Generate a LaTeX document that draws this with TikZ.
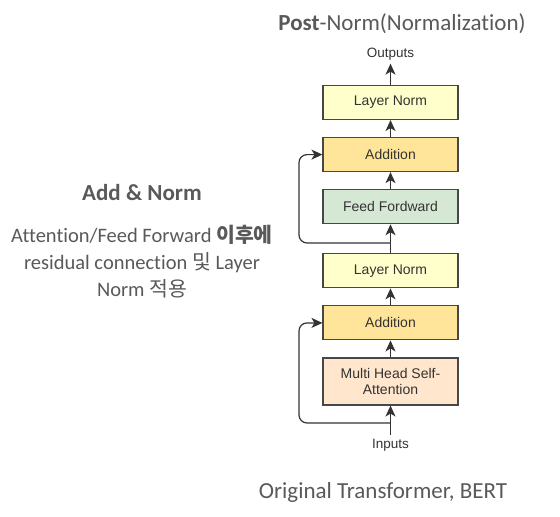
\documentclass[tikz,border=0pt]{standalone}
\usepackage{fontspec}
\setmainfont{Carlito}[Ligatures=NoCommon]
\newfontfamily\boxfont{Liberation Sans}
\newfontfamily\kr{Noto Sans CJK KR}
\usetikzlibrary{arrows.meta, positioning, calc}
\definecolor{txtgray}{HTML}{595959}
\definecolor{linegray}{HTML}{333333}
\definecolor{normfill}{HTML}{FFFFCC}
\definecolor{addfill}{HTML}{FFE599}
\definecolor{fffill}{HTML}{D5E8D4}
\definecolor{attfill}{HTML}{FFE6CC}

\tikzset{
    block/.style={draw=linegray!90, line width=1.1pt, rectangle, minimum width=135pt, minimum height=34pt,
        font=\boxfont\fontsize{14}{16}\selectfont, text=linegray, align=center, inner sep=2pt},
    flow/.style={-{Stealth[length=11pt, width=10pt, inset=3pt]}, draw=linegray, line width=1.2pt},
    caption/.style={text=txtgray, font=\fontsize{23}{27}\selectfont, align=center},
    body/.style={text=txtgray, font=\fontsize{20.5}{27}\selectfont, align=center}
}

\begin{document}
\begin{tikzpicture}[x=1pt, y=-1pt]
\useasboundingbox (0,0) rectangle (560,517);

% Post-Norm stack
\node[block, fill=attfill, minimum height=47pt] (mha) at (390.5,381.5) {Multi Head Self-\\Attention};
\node[block, fill=addfill, above=17pt of mha] (add1) {Addition};
\node[block, fill=normfill, above=17pt of add1] (norm1) {Layer Norm};
\node[block, fill=fffill, above=29pt of norm1] (ff) {Feed Fordward};
\node[block, fill=addfill, above=17pt of ff] (add2) {Addition};
\node[block, fill=normfill, above=17pt of add2] (norm2) {Layer Norm};

\node[font=\boxfont\fontsize{13.5}{15.5}\selectfont, text=linegray] (inputs) at (390.5,445) {Inputs};
\node[font=\boxfont\fontsize{13.5}{15.5}\selectfont, text=linegray] (outputs) at (390.5,54) {Outputs};

\draw[flow] (inputs) -- (mha);
\draw[flow] (mha) -- (add1);
\draw[flow] (add1) -- (norm1);
\draw[flow] (norm1) -- (ff);
\draw[flow] (ff) -- (add2);
\draw[flow] (add2) -- (norm2);
\draw[flow] (norm2) -- (outputs);

% Residual connections
\coordinate (split1) at (390.5,423);
\coordinate (split2) at (390.5,243);
\draw[flow, rounded corners=8pt] (split1) -- (299,423) |- (add1.west);
\draw[flow, rounded corners=8pt] (split2) -- (299,243) |- (add2.west);

% Captions
\node[caption] (title) at (402,24) {\textbf{Post}-Norm(Normalization)};
\node[caption] (addnorm) at (142,193) {\textbf{Add \& Norm}};
\node[body] (desc) at (142,262) {Attention/Feed Forward {\kr\textbf{이후에}}\\residual connection {\kr 및} Layer\\Norm {\kr 적용}};
\node[caption] (bottom) at (383,492) {Original Transformer, BERT};
\end{tikzpicture}
\end{document}
